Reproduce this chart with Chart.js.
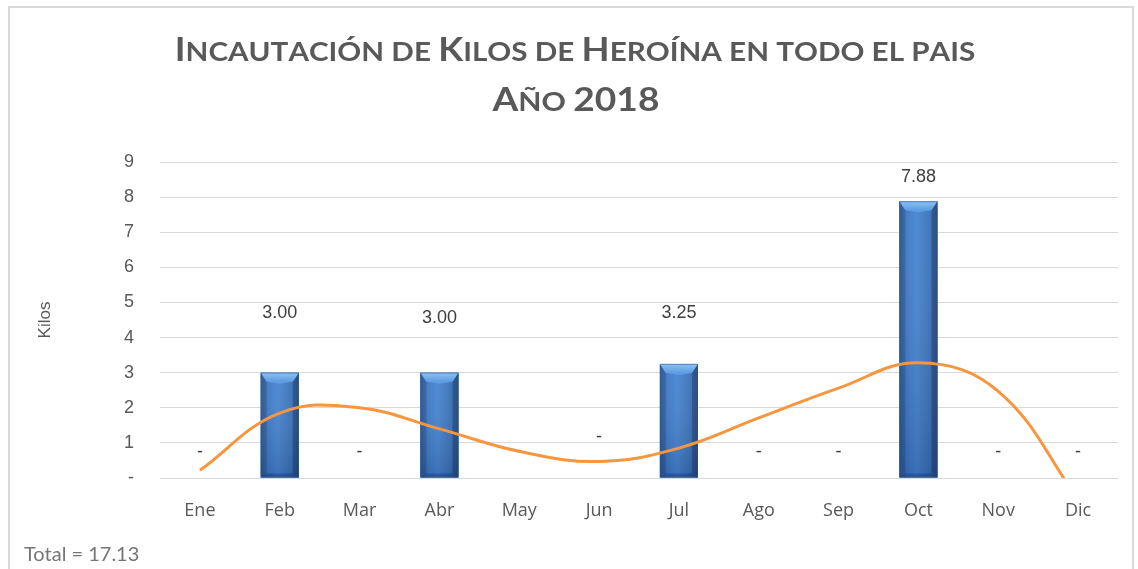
<!DOCTYPE html>
<html><head><meta charset="utf-8">
<script src="https://cdn.jsdelivr.net/npm/chart.js@4"></script>
<style>html,body{margin:0;padding:0;background:#fff;}#wrap{position:relative;width:1138px;height:569px;}</style>
</head><body><div id="wrap"><canvas id="c" width="1138" height="569"></canvas></div>
<script>
const months = ['Ene','Feb','Mar','Abr','May','Jun','Jul','Ago','Sep','Oct','Nov','Dic'];
const kilos = [0, 3.00, 0, 3.00, 0, 0, 3.25, 0, 0, 7.88, 0, 0];
const trend = [0.22, 1.85, 2.0, 1.4, 0.76, 0.47, 0.85, 1.71, 2.56, 3.28, 2.47, -0.6];
const titleLines = ['Incautación de Kilos de Heroína en todo el pais', 'Año 2018'];
const yAxisTitle = 'Kilos';
const totalValue = kilos.reduce((a, b) => a + b, 0);
const labelOffsets = [-26, -60, -26, -55, -26, -41, -51, -26, -26, -24, -26, -26];

const GRAY = '#595959';

function drawSmallCaps(ctx, text, cx, baseline, bigSize, smallSize, family, sx) {
  const parts = [];
  let total = 0;
  for (const ch of text) {
    const isBig = ch !== ch.toLowerCase() || /[0-9]/.test(ch);
    const size = isBig ? bigSize : smallSize;
    const glyph = isBig ? ch : ch.toUpperCase();
    ctx.font = 'bold ' + size + 'px ' + family;
    const w = ctx.measureText(glyph).width;
    parts.push({ glyph, font: ctx.font, w });
    total += w;
  }
  ctx.save();
  ctx.translate(cx, baseline);
  ctx.scale(sx, 1);
  let x = -total / 2;
  ctx.textAlign = 'left';
  ctx.textBaseline = 'alphabetic';
  for (const p of parts) {
    ctx.font = p.font;
    ctx.fillText(p.glyph, x, 0);
    x += p.w;
  }
  ctx.restore();
}

const barDeco = {
  id: 'barDeco',
  afterDatasetDraw(chart, args) {
    if (args.index !== 1) return;
    const ctx = chart.ctx;
    const ys = chart.scales.y;
    ctx.save();
    args.meta.data.forEach((el, i) => {
      const v = kilos[i];
      if (v > 0) {
        const w = el.width, x0 = el.x - w / 2, x1 = el.x + w / 2, top = el.y, bot = el.base;
        const g = ctx.createLinearGradient(x0, 0, x1, 0);
        g.addColorStop(0, '#2f5e9c');
        g.addColorStop(0.2, '#3d78c4');
        g.addColorStop(0.45, '#4585d2');
        g.addColorStop(0.8, '#3870b8');
        g.addColorStop(1, '#2a568f');
        ctx.fillStyle = g;
        ctx.fillRect(x0, top, w, bot - top);
        const gv = ctx.createLinearGradient(0, top, 0, bot);
        gv.addColorStop(0, 'rgba(255,255,255,0.05)');
        gv.addColorStop(1, 'rgba(10,30,70,0.2)');
        ctx.fillStyle = gv;
        ctx.fillRect(x0, top, w, bot - top);
        const b = 9, bw = Math.round(w * 0.16);
        ctx.fillStyle = 'rgba(20,45,90,0.2)';
        ctx.beginPath();
        ctx.moveTo(x0, top); ctx.lineTo(x0 + bw, top + b); ctx.lineTo(x0 + bw, bot - 4); ctx.lineTo(x0, bot);
        ctx.closePath(); ctx.fill();
        ctx.fillStyle = 'rgba(15,35,75,0.3)';
        ctx.beginPath();
        ctx.moveTo(x1, top); ctx.lineTo(x1 - bw, top + b); ctx.lineTo(x1 - bw, bot - 4); ctx.lineTo(x1, bot);
        ctx.closePath(); ctx.fill();
        const gt = ctx.createLinearGradient(0, top, 0, top + b);
        gt.addColorStop(0, '#8dc2f4');
        gt.addColorStop(1, '#5d9ce2');
        ctx.fillStyle = gt;
        ctx.beginPath();
        ctx.moveTo(x0, top); ctx.lineTo(x1, top); ctx.lineTo(x1 - bw, top + b);
        ctx.lineTo(el.x, top + b + 2); ctx.lineTo(x0 + bw, top + b);
        ctx.closePath(); ctx.fill();
        ctx.fillStyle = 'rgba(10,30,70,0.28)';
        ctx.beginPath();
        ctx.moveTo(x0, bot); ctx.lineTo(x1, bot); ctx.lineTo(x1 - bw, bot - 4); ctx.lineTo(x0 + bw, bot - 4);
        ctx.closePath(); ctx.fill();
        ctx.strokeStyle = 'rgba(50,90,150,0.55)';
        ctx.lineWidth = 1;
        ctx.strokeRect(x0 + 0.5, top + 0.5, w - 1, bot - top - 1);
      }
      ctx.fillStyle = '#404040';
      ctx.font = '18px "Liberation Sans"';
      ctx.textAlign = 'center';
      ctx.textBaseline = 'middle';
      const txt = v > 0 ? v.toFixed(2) : '-';
      ctx.fillText(txt, el.x, ys.getPixelForValue(v) + labelOffsets[i]);
    });
    ctx.restore();
  },
  afterDraw(chart) {
    const ctx = chart.ctx;
    ctx.save();
    ctx.strokeStyle = '#d9d9d9';
    ctx.lineWidth = 2;
    ctx.strokeRect(9, 7, 1124, 600);
    ctx.fillStyle = GRAY;
    drawSmallCaps(ctx, titleLines[0], 575, 61, 32, 26, 'Lato', 1.14);
    drawSmallCaps(ctx, titleLines[1], 576, 111, 32, 26, 'Lato', 1.16);
    ctx.fillStyle = '#767676';
    ctx.font = '20px Lato';
    ctx.textAlign = 'left';
    ctx.textBaseline = 'alphabetic';
    ctx.fillText('Total = ' + totalValue.toFixed(2), 24, 561);
    ctx.restore();
  }
};

new Chart(document.getElementById('c'), {
  data: {
    labels: months,
    datasets: [
      {
        type: 'line',
        label: 'Tendencia',
        data: trend,
        borderColor: '#F7963E',
        borderWidth: 3,
        pointRadius: 0,
        tension: 0.4,
        fill: false,
        order: 0
      },
      {
        type: 'bar',
        label: 'Kilos',
        data: kilos,
        backgroundColor: '#3a72bb',
        borderWidth: 0,
        categoryPercentage: 0.9,
        barPercentage: 0.53,
        order: 1
      }
    ]
  },
  options: {
    responsive: false,
    animation: false,
    layout: { padding: { left: 28, right: 20, top: 162, bottom: 0 } },
    plugins: {
      legend: { display: false },
      tooltip: { enabled: false },
      title: { display: false }
    },
    scales: {
      x: {
        grid: { display: false },
        border: { display: false },
        ticks: { color: GRAY, font: { family: '"Open Sans"', size: 18 }, padding: 14 },
        afterFit(s) { s.height = 91; }
      },
      y: {
        min: 0,
        max: 9,
        grid: { color: '#d9d9d9', drawTicks: false, lineWidth: 1 },
        border: { display: false },
        ticks: {
          stepSize: 1,
          color: GRAY,
          font: { family: '"Liberation Sans"', size: 18 },
          padding: 26,
          callback: (v) => v === 0 ? '-' : v
        },
        title: { display: true, text: yAxisTitle, color: GRAY, font: { family: '"Liberation Sans"', size: 17 }, padding: { top: 7, bottom: 0 } },
        afterFit(s) { s.width = 132; }
      }
    }
  },
  plugins: [barDeco]
});
</script></body></html>
